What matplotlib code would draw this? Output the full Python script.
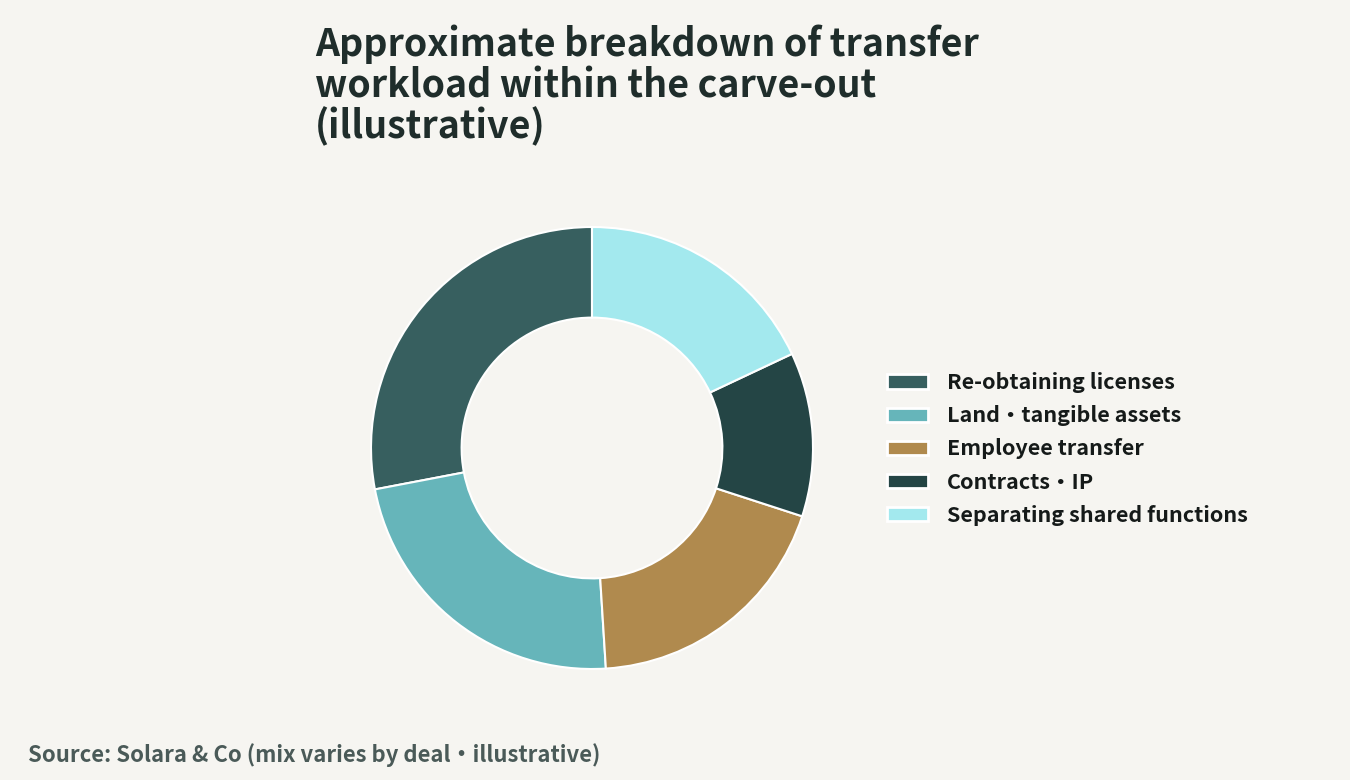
import matplotlib
matplotlib.use("Agg")
import matplotlib.pyplot as plt
from matplotlib.patches import Patch

# data
labels = ["Re-obtaining licenses", "Land・tangible assets", "Employee transfer",
          "Contracts・IP", "Separating shared functions"]
shares = [28, 23, 19, 12, 18]
colors = ["#375F5F", "#66B5BA", "#B08A4E", "#244545", "#A3E9EE"]

title = "Approximate breakdown of transfer\nworkload within the carve-out\n(illustrative)"
source = "Source: Solara & Co (mix varies by deal・illustrative)"

bg = "#F6F5F1"
plt.rcParams['font.family'] = ['Noto Sans CJK JP', 'DejaVu Sans']

fig = plt.figure(figsize=(13.5, 7.8), dpi=100, facecolor=bg)

# donut axes: centre (592, 448) px, outer radius 221 px
cx, cy, r = 592, 448, 221
ax = fig.add_axes([(cx - r) / 1350, (780 - cy - r) / 780, 2 * r / 1350, 2 * r / 780])
ax.set_facecolor(bg)
ax.pie(shares, colors=colors, startangle=90, counterclock=True, radius=1.0,
       wedgeprops=dict(width=0.41, edgecolor="white", linewidth=1.5))
ax.set_xlim(-1, 1)
ax.set_ylim(-1, 1)
ax.set_aspect("equal")
ax.axis("off")

# title
fig.text(315 / 1350, 1 - 25 / 780, title, ha="left", va="top", fontsize=27,
         fontweight="bold", color="#1F2D2B", linespacing=1.05)

# legend
handles = [Patch(facecolor=c, edgecolor="white", linewidth=2) for c in colors]
leg = fig.legend(handles, labels, loc="center left",
                 bbox_to_anchor=(868 / 1350, 1 - 449 / 780), frameon=False,
                 fontsize=15.5, handlelength=1.9, handleheight=0.68,
                 handletextpad=0.85, labelspacing=0.56)
for t in leg.get_texts():
    t.set_color("#151A19")
    t.set_fontweight("bold")

# source note
fig.text(28 / 1350, 1 - 755 / 780, source, ha="left", va="center", fontsize=15.9,
         fontweight="bold", color="#4A5A58")

fig.savefig("out.png", dpi=100, facecolor=bg)
